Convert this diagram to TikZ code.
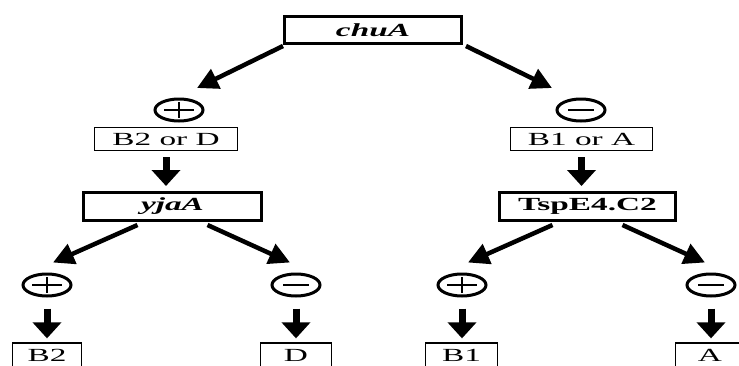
\documentclass[tikz,border=0pt]{standalone}
\usepackage{fontspec}
\setmainfont{Liberation Serif}
\usepackage{graphicx}
\usetikzlibrary{arrows.meta,shapes.geometric,calc}
\newcommand{\hs}[1]{\scalebox{1.8}[1]{#1}}
\begin{document}
\begin{tikzpicture}[x=1pt,y=-1pt,
  thickbox/.style={draw,line width=3pt,inner sep=0pt,font=\fontsize{18.5}{18.5}\selectfont},
  thinbox/.style={draw,line width=1.3pt,inner sep=0pt,minimum height=22.7pt,font=\fontsize{18.5}{18.5}\selectfont},
  sign/.style={ellipse,draw,line width=3pt,minimum width=48pt,minimum height=22pt,inner sep=0pt},
  signbar/.style={line width=2.5pt},
  diag/.style={line width=4.5pt,-{Triangle[length=21pt,width=21pt]}},
  down/.style={line width=7pt,-{Triangle[length=16pt,width=28pt]}}
]
\useasboundingbox (0,0) rectangle (739,365);
\fill[white] (0,0) rectangle (739,365);
\clip (0,0) rectangle (739,365);

% level 1
\node[thickbox,minimum width=177pt,minimum height=27pt] (chuA) at (373,30) {\hs{\textbf{\textit{chuA}}}};

% level 2 signs
\node[sign] (p1) at (179,110) {};
\node[sign] (m1) at (581,110) {};
\draw[signbar] ($(p1.center)+(-15,0)$) -- ($(p1.center)+(15,0)$) ($(p1.center)+(0,-8)$) -- ($(p1.center)+(0,8)$);
\draw[signbar] ($(m1.center)+(-13,0)$) -- ($(m1.center)+(13,0)$);

% level 2 boxes
\node[thinbox,minimum width=142.7pt] (BD) at (166,139) {\hs{B2 or D}};
\node[thinbox,minimum width=141.7pt] (BA) at (581.5,139) {\hs{B1 or A}};

% level 3 boxes
\node[thickbox,minimum width=178pt,minimum height=28pt] (yjaA) at (172.5,206.5) {\hs{\textbf{\textit{yjaA}}}};
\node[thickbox,minimum width=176pt,minimum height=28pt] (Tsp) at (587.5,206.5) {\hs{\textbf{TspE4.C2}}};

% level 4 signs
\node[sign] (p2) at (47,285) {};
\node[sign] (m2) at (296,285) {};
\node[sign] (p3) at (462,285) {};
\node[sign] (m3) at (711,285) {};
\foreach \s in {p2,p3}{
  \draw[signbar] ($(\s.center)+(-15,0)$) -- ($(\s.center)+(15,0)$) ($(\s.center)+(0,-8)$) -- ($(\s.center)+(0,8)$);
}
\foreach \s in {m2,m3}{
  \draw[signbar] ($(\s.center)+(-13,0)$) -- ($(\s.center)+(13,0)$);
}

% bottom boxes
\node[thinbox,minimum width=68.7pt,minimum height=24pt] (B2) at (47,355) {\hs{B2}};
\node[thinbox,minimum width=70.7pt,minimum height=24pt] (D) at (296,355) {\hs{D}};
\node[thinbox,minimum width=71.7pt,minimum height=24pt] (B1) at (461.5,355) {\hs{B1}};
\node[thinbox,minimum width=68.7pt,minimum height=24pt] (A) at (710,355) {\hs{A}};

% diagonal arrows
\draw[diag] ($(chuA.south west)+(0,1)$) -- ($(p1.north)+(18,-9.5)$);
\draw[diag] ($(chuA.south east)+(3,1)$) -- ($(m1.north)+(-29,-9.5)$);
\draw[diag] ($(yjaA.south)+(-35,3)$) -- ($(p2.north)+(6,-10)$);
\draw[diag] ($(yjaA.south)+(35,3)$) -- ($(m2.north)+(-6,-10)$);
\draw[diag] ($(Tsp.south)+(-35,3)$) -- ($(p3.north)+(6,-10)$);
\draw[diag] ($(Tsp.south)+(35,3)$) -- ($(m3.north)+(-6,-10)$);

% vertical arrows
\draw[down] ($(BD.south)+(0,6)$) -- ($(BD.south |- yjaA.north)+(0,-5)$);
\draw[down] ($(BA.south)+(0,6)$) -- ($(BA.south |- Tsp.north)+(0,-5)$);
\draw[down] ($(p2.south)+(0,11)$) -- ($(B2.north)+(0,-4)$);
\draw[down] ($(m2.south)+(0,11)$) -- ($(D.north)+(0,-4)$);
\draw[down] ($(p3.south)+(0,11)$) -- ($(p3.south |- B1.north)+(0,-4)$);
\draw[down] ($(m3.south)+(0,11)$) -- ($(m3.south |- A.north)+(0,-4)$);
\end{tikzpicture}
\end{document}
